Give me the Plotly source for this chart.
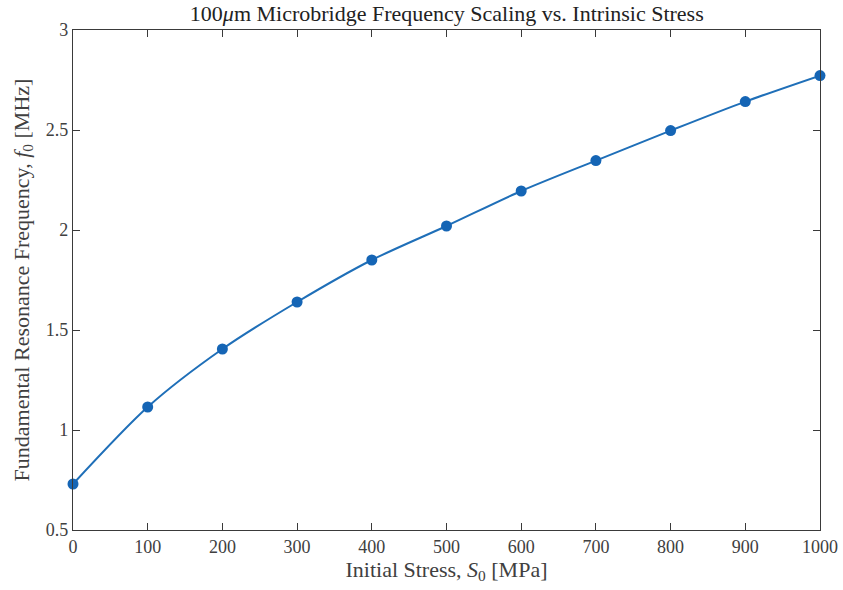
import plotly.graph_objects as go

# Initial stress (MPa) and fundamental resonance frequency (MHz)
stress_mpa = [0, 100, 200, 300, 400, 500, 600, 700, 800, 900, 1000]
freq_mhz = [0.73, 1.115, 1.405, 1.64, 1.85, 2.02, 2.195, 2.347, 2.497, 2.642, 2.772]

x_ticks = [0, 100, 200, 300, 400, 500, 600, 700, 800, 900, 1000]
y_ticks = [0.5, 1, 1.5, 2, 2.5, 3]
y_tick_text = ["0.5", "1", "1.5", "2", "2.5", "3"]

line_color = "#1f6fb8"
axis_color = "#3a3a3a"
text_color = "#404040"
font_family = "Liberation Serif, DejaVu Serif, serif"

fig = go.Figure()
fig.add_trace(go.Scatter(
    x=stress_mpa, y=freq_mhz,
    mode="lines+markers",
    line=dict(color=line_color, width=2, shape="spline", smoothing=0.8),
    marker=dict(color="#1565b5", size=11),
    showlegend=False,
    cliponaxis=False,
))

axis_common = dict(
    showline=True, linecolor=axis_color, linewidth=1.3, mirror="ticks",
    ticks="inside", ticklen=7, tickwidth=1.2, tickcolor=axis_color,
    showgrid=False, zeroline=False, automargin=False,
    tickfont=dict(family=font_family, size=18, color=text_color),
    title_font=dict(family=font_family, size=22, color=text_color),
)

fig.update_xaxes(
    range=[0, 1000], tickvals=x_ticks,
    title_text="Initial Stress, <i>S</i><sub>0</sub> [MPa]", title_standoff=5,
    **axis_common,
)
fig.update_yaxes(
    range=[0.5, 3], tickvals=y_ticks, ticktext=y_tick_text,
    title_text="Fundamental Resonance Frequency, <i>f</i><sub>0</sub> [MHz]", title_standoff=10,
    **axis_common,
)

fig.update_layout(
    width=843, height=590,
    margin=dict(l=73, r=23, t=30, b=60),
    paper_bgcolor="white", plot_bgcolor="white",
    title=dict(
        text="100<i>μ</i>m Microbridge Frequency Scaling vs. Intrinsic Stress",
        x=0.53, xanchor="center", y=0.978, yanchor="middle",
        font=dict(family=font_family, size=22, color="#222222"),
    ),
)

fig.write_html("out.html")
